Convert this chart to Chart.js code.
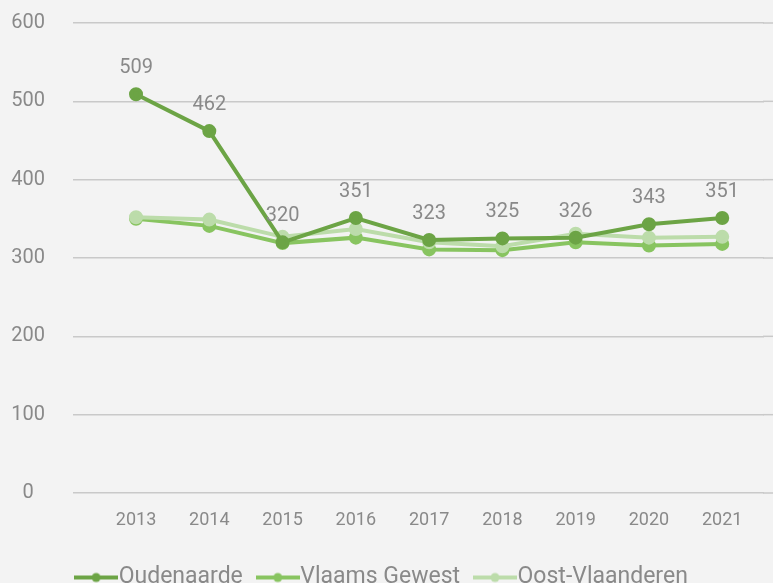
<!DOCTYPE html>
<html>
<head>
<meta charset="utf-8">
<script src="https://cdn.jsdelivr.net/npm/chart.js@4"></script>
<style>
  html, body { margin: 0; padding: 0; background: #f3f3f3; overflow: hidden; }
  #wrap { position: relative; width: 773px; height: 583px; }
</style>
</head>
<body>
<div id="wrap"><canvas id="trendChart"></canvas></div>
<script>
const years = [2013, 2014, 2015, 2016, 2017, 2018, 2019, 2020, 2021];
const oudenaarde = [509, 462, 320, 351, 323, 325, 326, 343, 351];
const vlaamsGewest = [350, 341, 319, 326, 311, 310, 320, 316, 318];
const oostVlaanderen = [352, 349, 327, 337, 320, 315, 331, 326, 327];
const yTicks = [0, 100, 200, 300, 400, 500, 600];

const colors = ['#6ca445', '#88c460', '#bcdcaa'];
const textGrey = '#898989';
const gridGrey = '#c9c9c9';

const toPoints = arr => arr.map((v, i) => ({ x: years[i], y: v }));

// small line+dot icon for legend
const legendIcon = color => {
    const c = document.createElement('canvas');
    c.width = 44; c.height = 12;
    const g = c.getContext('2d');
    g.strokeStyle = color; g.lineWidth = 4;
    g.beginPath(); g.moveTo(0, 6); g.lineTo(44, 6); g.stroke();
    g.fillStyle = color;
    g.beginPath(); g.arc(22, 6, 4.5, 0, Math.PI * 2); g.fill();
    return c;
};

// horizontal grid runs to the right edge of the canvas
const gridToEdge = {
    id: 'gridToEdge',
    beforeDatasetsDraw(chart) {
        const { ctx, chartArea } = chart;
        const y = chart.scales.y;
        ctx.save();
        ctx.strokeStyle = gridGrey;
        ctx.lineWidth = 1.5;
        yTicks.forEach(v => {
            const py = y.getPixelForValue(v);
            ctx.beginPath();
            ctx.moveTo(chartArea.right - 1, py);
            ctx.lineTo(chart.width, py);
            ctx.stroke();
        });
        ctx.restore();
    }
};

const valueLabels = {
    id: 'valueLabels',
    afterDatasetsDraw(chart) {
        const ctx = chart.ctx;
        const meta = chart.getDatasetMeta(0);
        ctx.save();
        ctx.font = '20px Roboto';
        ctx.fillStyle = textGrey;
        ctx.textAlign = 'center';
        ctx.textBaseline = 'middle';
        meta.data.forEach((pt, i) => {
            ctx.fillText(String(oudenaarde[i]), pt.x, pt.y - 26);
        });
        ctx.restore();
    }
};

const ds = (label, data, color, order) => ({
    label,
    data: toPoints(data),
    borderColor: color,
    backgroundColor: color,
    pointBackgroundColor: color,
    pointBorderColor: color,
    borderWidth: 4,
    pointRadius: 5,
    pointHoverRadius: 5,
    pointStyle: 'circle',
    tension: 0,
    order
});

Chart.defaults.font.family = 'Roboto';

new Chart(document.getElementById('trendChart'), {
    type: 'line',
    data: {
        datasets: [
            ds('Oudenaarde', oudenaarde, colors[0], 0),
            ds('Vlaams Gewest', vlaamsGewest, colors[1], 2),
            ds('Oost-Vlaanderen', oostVlaanderen, colors[2], 1)
        ]
    },
    options: {
        responsive: true,
        maintainAspectRatio: false,
        animation: false,
        layout: { padding: { top: 23, right: 0, left: 0, bottom: -16 } },
        scales: {
            x: {
                type: 'linear',
                min: 2012.14,
                max: 2021.57,
                grid: { display: false },
                border: { display: false },
                afterBuildTicks: s => { s.ticks = years.map(v => ({ value: v })); },
                afterFit: s => {
                    s.paddingLeft = 0; s.paddingRight = 0;
                    s.height = 49;
                },
                ticks: {
                    color: textGrey,
                    font: { size: 18 },
                    padding: 9,
                    callback: v => String(v)
                }
            },
            y: {
                min: 0,
                max: 600,
                afterBuildTicks: s => { s.ticks = yTicks.map(v => ({ value: v })); },
                afterFit: s => { s.width = 73; s.paddingTop = 0; s.paddingBottom = 0; },
                grid: { color: gridGrey, lineWidth: 1.5, drawTicks: false },
                border: { display: false },
                ticks: {
                    color: textGrey,
                    font: { size: 20 },
                    crossAlign: 'center',
                    padding: 28
                }
            }
        },
        plugins: {
            tooltip: { enabled: false },
            legend: {
                position: 'bottom',
                labels: {
                    usePointStyle: true,
                    color: textGrey,
                    font: { size: 23 },
                    padding: 24,
                    boxWidth: 22,
                    boxHeight: 12,
                    generateLabels: chart => chart.data.datasets.map((d, i) => ({
                        text: d.label,
                        pointStyle: legendIcon(d.borderColor),
                        fontColor: textGrey,
                        datasetIndex: i,
                        lineWidth: 0
                    }))
                }
            }
        }
    },
    plugins: [gridToEdge, valueLabels]
});
</script>
</body>
</html>
